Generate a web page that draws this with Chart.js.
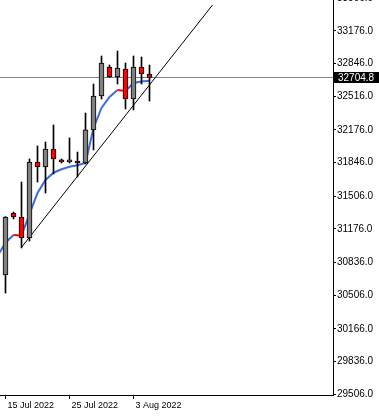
<!DOCTYPE html>
<html><head><meta charset="utf-8">
<script src="https://cdn.jsdelivr.net/npm/chart.js@4"></script>
<style>html,body{margin:0;padding:0;background:#fff;overflow:hidden}canvas{display:block}</style>
</head><body>
<canvas id="c" width="379" height="417"></canvas>
<script>
// ---- data ----
const dates = ['15 Jul 2022','17 Jul 2022','18 Jul 2022','19 Jul 2022','20 Jul 2022','21 Jul 2022','22 Jul 2022','24 Jul 2022','25 Jul 2022','26 Jul 2022','27 Jul 2022','28 Jul 2022','29 Jul 2022','31 Jul 2022','1 Aug 2022','2 Aug 2022','3 Aug 2022','4 Aug 2022','5 Aug 2022'];
const opens  = [30710,31336,31296,31084,31851,31801,31983,31872,31851,31861,31841,32175,32518,32811,32710,32791,32488,32811,32740];
const highs  = [31300,31346,31649,31882,32013,32053,32225,31882,32094,31952,32346,32639,32922,32831,32972,32851,32922,32912,32831];
const lows   = [30528,31276,30983,31053,31649,31538,31730,31841,31841,31700,31831,31973,32488,32705,32639,32387,32377,32639,32467];
const closes = [31296,31296,31084,31851,31801,31983,31882,31851,31872,31841,32175,32518,32851,32710,32801,32488,32811,32740,32704.8];
// moving average, starting one bar before the first visible candle
const maStart = -1;
const maValues = [30902,31036,31114,31109,31326,31538,31670,31743,31778,31804,31818,31841,32195,32397,32508,32579,32568,32649,32664,32671];
// trend line end points (bar index, price)
const trendX = [2, 25.875];
const trendY = [30990, 33437];
const currentPrice = 32704.8;
const yTickLabels = ['33506.0','33176.0','32846.0','32516.0','32176.0','31846.0','31506.0','31176.0','30836.0','30506.0','30166.0','29836.0','29506.0'];
const xTickIdx = [0, 8, 16];

// ---- scale ranges ----
const X_MIN = -0.6875, X_MAX = 40.9375;
const Y_MIN = 29498, Y_MAX = 33487.5;

const FONT = '"Liberation Sans", Arial, sans-serif';
const BLUE = '#3d6be0';
const RED = '#ff0000';
const GRAY = '#808080';

const idx = dates.map((d, i) => i);
const bodies = idx.map(i => ({x: i, y: [opens[i], closes[i]]}));
const wicks = idx.map(i => ({x: i, y: [lows[i], highs[i]]}));
const bodyColors = idx.map(i => closes[i] >= opens[i] ? GRAY : RED);
const maData = maValues.map((v, j) => ({x: maStart + j, y: v}));
const trendData = trendX.map((x, j) => ({x, y: trendY[j]}));
const priceLineData = [{x: X_MIN, y: currentPrice}, {x: X_MAX, y: currentPrice}];

const priceLabel = {
  id: 'priceLabel',
  afterDraw(chart) {
    const {ctx, chartArea, scales: {y}} = chart;
    const py = Math.floor(y.getPixelForValue(currentPrice));
    ctx.save();
    ctx.fillStyle = '#000';
    ctx.fillRect(chartArea.right + 1, py - 5, chart.width - chartArea.right, 11);
    ctx.fillStyle = '#fff';
    ctx.font = '10px ' + FONT;
    ctx.textBaseline = 'middle';
    ctx.textAlign = 'left';
    ctx.fillText(currentPrice.toFixed(1), chartArea.right + 5, py + 1);
    ctx.restore();
  }
};

new Chart(document.getElementById('c'), {
  type: 'bar',
  data: {
    datasets: [
      {type: 'bar', data: bodies, backgroundColor: bodyColors, borderColor: '#000', borderWidth: 1,
       borderSkipped: false, barThickness: 5, grouped: false, order: 0},
      {type: 'bar', data: wicks, backgroundColor: '#000', borderWidth: 0,
       barThickness: 1, grouped: false, order: 1},
      {type: 'line', data: maData, borderColor: BLUE, borderWidth: 2, pointRadius: 0, tension: 0,
       segment: {borderColor: c => c.p1.parsed.y < c.p0.parsed.y ? RED : BLUE}, order: 2},
      {type: 'line', data: trendData, borderColor: '#000', borderWidth: 1, pointRadius: 0, order: 3},
      {type: 'line', data: priceLineData, borderColor: '#7a8591', borderWidth: 1, pointRadius: 0, order: 4}
    ]
  },
  options: {
    responsive: false,
    animation: false,
    devicePixelRatio: 1,
    layout: {padding: 0},
    plugins: {legend: {display: false}, tooltip: {enabled: false}},
    scales: {
      x: {
        type: 'linear', position: 'bottom', min: X_MIN, max: X_MAX, offset: false,
        grid: {display: true, drawOnChartArea: false, drawTicks: true, tickLength: 4, color: '#000', offset: false},
        border: {display: true, color: '#000', width: 1},
        afterBuildTicks: s => { s.ticks = xTickIdx.map(v => ({value: v})); },
        afterFit: s => { s.height = 22; s.paddingLeft = 0; s.paddingRight = 0; },
        ticks: {autoSkip: false, maxRotation: 0, minRotation: 0, align: 'start', labelOffset: 2, padding: 1,
                color: '#000', font: {family: FONT, size: 9},
                callback: v => dates[v] || ''}
      },
      y: {
        type: 'linear', position: 'right', min: Y_MIN, max: Y_MAX,
        grid: {display: true, drawOnChartArea: false, drawTicks: true, tickLength: 3, color: '#000'},
        border: {display: true, color: '#000', width: 1},
        afterBuildTicks: s => { s.ticks = yTickLabels.map(t => ({value: parseFloat(t)})); },
        afterFit: s => { s.width = 46; s.paddingTop = 0; s.paddingBottom = 0; },
        ticks: {padding: 1, color: '#000', font: {family: FONT, size: 10},
                callback: (v, i) => yTickLabels[i]}
      }
    }
  },
  plugins: [priceLabel]
});
</script>
</body></html>
